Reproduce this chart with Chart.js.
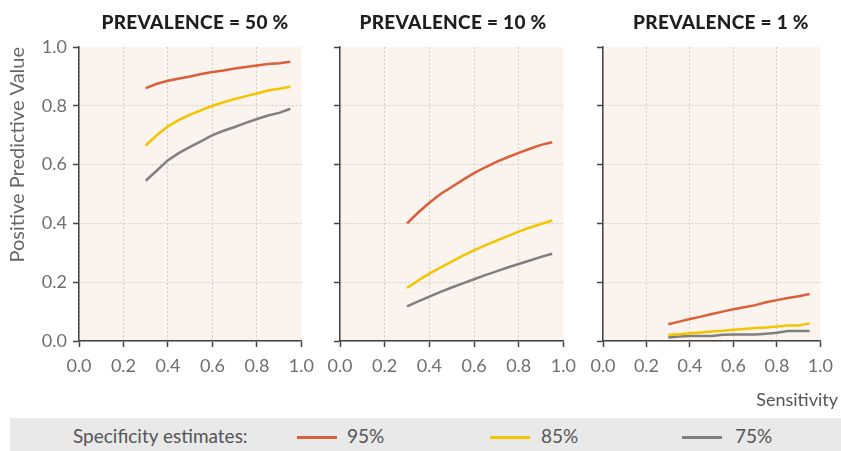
<!DOCTYPE html>
<html>
<head>
<meta charset="utf-8">
<script src="https://cdn.jsdelivr.net/npm/chart.js@4"></script>
<style>
    html, body { margin: 0; padding: 0; background: #fff; }
    #wrap { position: relative; width: 841px; height: 451px; overflow: hidden; font-family: Lato, sans-serif; }
    canvas { position: absolute; top: 0; }
    .title { position: absolute; top: 10px; transform: translateX(-50%); font: 900 19px Lato, sans-serif; color: #1e1e1e; white-space: nowrap; letter-spacing: 0.3px; }
    #xlabel { position: absolute; right: 3px; top: 388px; font-size: 18px; color: #555; }
    #legend { position: absolute; left: 10px; top: 418px; width: 831px; height: 33px; background: #e9e9e9; font-size: 19px; color: #555; }
    #legend span { position: absolute; top: 6px; }
    #legend i { position: absolute; top: 18px; width: 40px; height: 3px; }
</style>
</head>
<body>
<div id="wrap">
    <canvas id="c1" width="322" height="400" style="left:0px"></canvas>
    <canvas id="c2" width="284" height="400" style="left:300px"></canvas>
    <canvas id="c3" width="278" height="400" style="left:563px"></canvas>
    <div class="title" style="left:195px">PREVALENCE = 50 %</div>
    <div class="title" style="left:453px">PREVALENCE = 10 %</div>
    <div class="title" style="left:721px">PREVALENCE = 1 %</div>
    <div id="xlabel">Sensitivity</div>
    <div id="legend">
        <span style="left:63px">Specificity estimates:</span>
        <i style="left:287px;background:#d9603b"></i><span style="left:337px">95%</span>
        <i style="left:480px;background:#f5c400"></i><span style="left:531px">85%</span>
        <i style="left:672px;background:#808080"></i><span style="left:725px">75%</span>
    </div>
</div>
<script>
const sensitivity = [0.3, 0.35, 0.4, 0.45, 0.5, 0.55, 0.6, 0.65, 0.7, 0.75, 0.8, 0.85, 0.9, 0.95];
const xTicks = [0, 0.2, 0.4, 0.6, 0.8, 1.0];
const yTicks = [0, 0.2, 0.4, 0.6, 0.8, 1.0];
const specLabels = ['95%', '85%', '75%'];
const specColors = ['#d9603b', '#f5c400', '#808080'];

// prevalence 50 %
const spec95Prev50 = [0.86, 0.875, 0.885, 0.893, 0.9, 0.908, 0.915, 0.92, 0.927, 0.932, 0.937, 0.942, 0.945, 0.95];
const spec85Prev50 = [0.665, 0.7, 0.73, 0.752, 0.77, 0.785, 0.8, 0.812, 0.823, 0.833, 0.842, 0.852, 0.858, 0.865];
const spec75Prev50 = [0.545, 0.58, 0.615, 0.64, 0.66, 0.68, 0.7, 0.715, 0.728, 0.742, 0.755, 0.767, 0.776, 0.79];
// prevalence 10 %
const spec95Prev10 = [0.4, 0.437, 0.47, 0.5, 0.524, 0.548, 0.571, 0.591, 0.609, 0.625, 0.64, 0.654, 0.667, 0.676];
const spec85Prev10 = [0.18, 0.206, 0.229, 0.25, 0.27, 0.29, 0.308, 0.325, 0.341, 0.357, 0.372, 0.386, 0.398, 0.41];
const spec75Prev10 = [0.118, 0.135, 0.151, 0.167, 0.182, 0.196, 0.21, 0.224, 0.237, 0.25, 0.262, 0.274, 0.286, 0.297];
// prevalence 1 %
const spec95Prev1 = [0.057, 0.066, 0.075, 0.083, 0.092, 0.1, 0.108, 0.115, 0.122, 0.132, 0.139, 0.146, 0.152, 0.16];
const spec85Prev1 = [0.02, 0.023, 0.026, 0.029, 0.032, 0.035, 0.038, 0.041, 0.044, 0.046, 0.049, 0.053, 0.053, 0.06];
const spec75Prev1 = [0.012, 0.015, 0.017, 0.017, 0.017, 0.021, 0.022, 0.022, 0.022, 0.025, 0.028, 0.034, 0.034, 0.034];

const plotBackground = {
    id: 'plotBackground',
    beforeDraw(chart) {
        const {ctx, chartArea: a} = chart;
        ctx.save();
        ctx.fillStyle = '#faf3ee';
        ctx.fillRect(a.left, a.top, a.right - a.left, a.bottom - a.top);
        ctx.restore();
    }
};

function makeData(series) {
    return series.map((vals, k) => ({
        label: specLabels[k],
        data: sensitivity.map((s, i) => ({x: s, y: vals[i]})),
        borderColor: specColors[k],
        borderWidth: 2.5,
        pointRadius: 0,
        tension: 0,
        fill: false,
    }));
}

function gridColor(ctx) {
    return ctx.tick && ctx.tick.value === 1 ? 'rgba(0,0,0,0)' : '#d2ccc8';
}

function makeChart(id, series, yWidth, rightPad, showY) {
    return new Chart(document.getElementById(id), {
        type: 'line',
        data: { datasets: makeData(series) },
        plugins: [plotBackground],
        options: {
            responsive: false,
            animation: false,
            layout: { padding: { top: 47, right: rightPad, left: 0, bottom: 0 } },
            plugins: { legend: { display: false }, tooltip: { enabled: false } },
            scales: {
                x: {
                    type: 'linear',
                    min: 0, max: 1,
                    afterBuildTicks: (scale) => { scale.ticks = xTicks.map(v => ({value: v})); },
                    afterFit: (scale) => { scale.height = 59; },
                    grid: { color: gridColor, lineWidth: 1, tickLength: 6, tickColor: '#444', tickWidth: 1.5, tickBorderDash: [] },
                    border: { display: true, color: '#444', width: 1.5, dash: [2, 2] },
                    ticks: { color: '#707070', font: { family: 'Lato', size: 18 }, padding: 8, maxRotation: 0, callback: v => v.toFixed(1) },
                },
                y: {
                    type: 'linear',
                    min: 0, max: 1,
                    afterBuildTicks: (scale) => { scale.ticks = yTicks.map(v => ({value: v})); },
                    afterFit: (scale) => { scale.width = yWidth; },
                    grid: { color: gridColor, lineWidth: 1, tickLength: 6, tickColor: '#444', tickWidth: 1.5, tickBorderDash: [] },
                    border: { display: true, color: '#444', width: 1.5, dash: [2, 2] },
                    ticks: { display: showY, color: '#707070', font: { family: 'Lato', size: 18 }, padding: 6, callback: v => v.toFixed(1) },
                    title: { display: showY, text: 'Positive Predictive Value', align: 'end', color: '#666', font: { family: 'Lato', size: 20 }, padding: { top: 6, bottom: 0 } },
                },
            },
        },
    });
}

makeChart('c1', [spec95Prev50, spec85Prev50, spec75Prev50], 79, 20, true);
makeChart('c2', [spec95Prev10, spec85Prev10, spec75Prev10], 40, 20, false);
makeChart('c3', [spec95Prev1, spec85Prev1, spec75Prev1], 40, 14, false);
</script>
</body>
</html>
